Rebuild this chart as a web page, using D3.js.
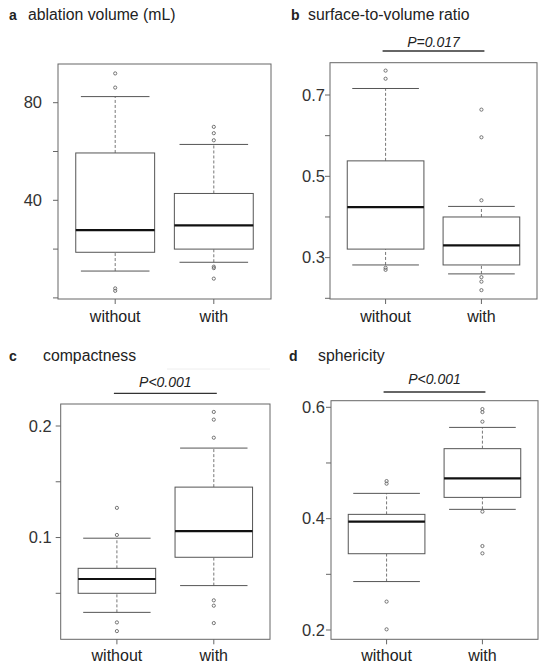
<!DOCTYPE html>
<html lang="en">
<head>
<meta charset="UTF-8">
<title>Boxplots</title>
<script src="https://d3js.org/d3.v7.min.js"></script>
<style>
  body { margin: 0; background: #fff; }
  svg { display: block; font-family: 'Liberation Sans', Arial, sans-serif; }
</style>
</head>
<body>
<div id="chart"></div>
<script>
// groups
const groups = ['without', 'with'];

// five-number summaries: [lowWhisker, q1, median, q3, highWhisker]
const volumeWithout = [11.0, 18.7, 27.8, 59.4, 82.5];
const volumeWith = [14.6, 20.0, 29.7, 42.8, 62.9];
const volumeOutWithout = [92.0, 86.2, 3.9, 2.9];
const volumeOutWith = [70.1, 67.5, 64.6, 12.8, 12.2, 7.9];

const svrWithout = [0.282, 0.321, 0.424, 0.538, 0.716];
const svrWith = [0.260, 0.282, 0.330, 0.400, 0.426];
const svrOutWithout = [0.760, 0.740, 0.275, 0.270];
const svrOutWith = [0.664, 0.596, 0.441, 0.252, 0.241, 0.220];

const compWithout = [0.0329, 0.0500, 0.0628, 0.0724, 0.0994];
const compWith = [0.0569, 0.0823, 0.1057, 0.1452, 0.1802];
const compOutWithout = [0.1266, 0.1023, 0.0239, 0.0161];
const compOutWith = [0.2126, 0.2057, 0.1895, 0.0437, 0.0389, 0.0233];

const sphWithout = [0.287, 0.337, 0.3946, 0.4077, 0.4454];
const sphWith = [0.4167, 0.4382, 0.4723, 0.5257, 0.5639];
const sphOutWithout = [0.4675, 0.4628, 0.251, 0.2012];
const sphOutWith = [0.5968, 0.5914, 0.5742, 0.4126, 0.3508, 0.3377];

// axis ticks
const volumeTicks = [0, 20, 40, 60, 80];
const volumeLabels = ['', '', '40', '', '80'];
const svrTicks = [0.2, 0.3, 0.4, 0.5, 0.6, 0.7];
const svrLabels = ['', '0.3', '', '0.5', '', '0.7'];
const compTicks = [0.05, 0.1, 0.15, 0.2];
const compLabels = ['', '0.1', '', '0.2'];
const sphTicks = [0.2, 0.3, 0.4, 0.5, 0.6];
const sphLabels = ['0.2', '', '0.4', '', '0.6'];

const width = 539, height = 663;
const svg = d3.select('#chart').append('svg')
    .attr('width', width)
    .attr('height', height);

const panels = [
    { letter: 'a', title: 'ablation volume (mL)', titleX: 9, titleGap: 19, titleY: 20,
      frame: [58, 271, 64, 299], yDomain: [0, 80], yRange: [297.9, 102.7],
      ticks: volumeTicks, labels: volumeLabels, labelGap: 16, catY: 322,
      stats: [volumeWithout, volumeWith], outs: [volumeOutWithout, volumeOutWith], p: null },
    { letter: 'b', title: 'surface-to-volume ratio', titleX: 291, titleGap: 17, titleY: 20,
      frame: [330, 537, 62.7, 299], yDomain: [0.2, 0.7], yRange: [298.3, 95],
      ticks: svrTicks, labels: svrLabels, labelGap: 5, catY: 322,
      stats: [svrWithout, svrWith], outs: [svrOutWithout, svrOutWith],
      p: { text: 'P=0.017', y: 47, lineY: 51 } },
    { letter: 'c', title: 'compactness', titleX: 9, titleGap: 34, titleY: 361,
      frame: [60.7, 270, 404, 639.3], yDomain: [0.05, 0.2], yRange: [593.3, 426],
      ticks: compTicks, labels: compLabels, labelGap: 9, catY: 661,
      stats: [compWithout, compWith], outs: [compOutWithout, compOutWith],
      p: { text: 'P<0.001', y: 387, lineY: 393.3 } },
    { letter: 'd', title: 'sphericity', titleX: 289, titleGap: 29, titleY: 361,
      frame: [331, 538, 400.7, 639.3], yDomain: [0.2, 0.6], yRange: [630, 407.3],
      ticks: sphTicks, labels: sphLabels, labelGap: 6, catY: 661,
      stats: [sphWithout, sphWith], outs: [sphOutWithout, sphOutWith],
      p: { text: 'P<0.001', y: 384, lineY: 392 } }
];

// faint stray rule seen next to panel c title
svg.append('line')
    .attr('x1', 167).attr('x2', 270).attr('y1', 369).attr('y2', 369)
    .attr('stroke', '#eeeeee').attr('stroke-width', 1);

panels.forEach(pn => {
    const [x0, x1, y0, y1] = pn.frame;
    const x = d3.scaleLinear().domain([0.42, 2.58]).range([x0, x1]);
    const y = d3.scaleLinear().domain(pn.yDomain).range(pn.yRange);
    const g = svg.append('g');
    const boxW = x(1.4) - x(0.6);
    const capW = boxW / 2.3;

    // title
    const t = g.append('text')
        .attr('x', pn.titleX).attr('y', pn.titleY)
        .attr('font-size', 15.8).attr('fill', '#222');
    t.append('tspan').attr('font-weight', 'bold').attr('font-size', 14).text(pn.letter);
    t.append('tspan').attr('x', pn.titleX + pn.titleGap).text(pn.title);

    // frame
    g.append('rect')
        .attr('x', x0).attr('y', y0)
        .attr('width', x1 - x0).attr('height', y1 - y0)
        .attr('fill', 'none').attr('stroke', '#666').attr('stroke-width', 1);

    // y ticks
    pn.ticks.forEach((v, i) => {
        g.append('line')
            .attr('x1', x0 - 5).attr('x2', x0)
            .attr('y1', y(v)).attr('y2', y(v))
            .attr('stroke', '#666');
        if (pn.labels[i]) {
            g.append('text')
                .attr('x', x0 - pn.labelGap).attr('y', y(v))
                .attr('dy', '0.35em')
                .attr('text-anchor', 'end')
                .attr('font-size', 16.5).attr('fill', '#333')
                .text(pn.labels[i]);
        }
    });

    // x ticks + category labels
    groups.forEach((grp, i) => {
        const cx = x(i + 1);
        g.append('line')
            .attr('x1', cx).attr('x2', cx).attr('y1', y1).attr('y2', y1 + 5)
            .attr('stroke', '#666');
        g.append('text')
            .attr('x', cx).attr('y', pn.catY)
            .attr('text-anchor', 'middle')
            .attr('font-size', 16).attr('fill', '#222')
            .text(grp);

        const s = pn.stats[i];
        // whiskers
        [[s[0], s[1]], [s[3], s[4]]].forEach(([a, b]) => {
            g.append('line')
                .attr('x1', cx).attr('x2', cx).attr('y1', y(a)).attr('y2', y(b))
                .attr('stroke', '#777').attr('stroke-dasharray', '3,2');
        });
        [s[0], s[4]].forEach(v => {
            g.append('line')
                .attr('x1', cx - capW).attr('x2', cx + capW)
                .attr('y1', y(v)).attr('y2', y(v))
                .attr('stroke', '#555');
        });
        // box
        g.append('rect')
            .attr('x', cx - boxW / 2).attr('y', y(s[3]))
            .attr('width', boxW).attr('height', y(s[1]) - y(s[3]))
            .attr('fill', '#fff').attr('stroke', '#555');
        // median
        g.append('line')
            .attr('x1', cx - boxW / 2).attr('x2', cx + boxW / 2)
            .attr('y1', y(s[2])).attr('y2', y(s[2]))
            .attr('stroke', '#111').attr('stroke-width', 2.2);
        // outliers
        g.selectAll(null)
            .data(pn.outs[i])
            .join('circle')
            .attr('cx', cx).attr('cy', d => y(d))
            .attr('r', 1.6)
            .attr('fill', 'none').attr('stroke', '#666').attr('stroke-width', 0.9);
    });

    // significance bar
    if (pn.p) {
        g.append('line')
            .attr('x1', x(1) - 3).attr('x2', x(2) + 3)
            .attr('y1', pn.p.lineY).attr('y2', pn.p.lineY)
            .attr('stroke', '#333').attr('stroke-width', 1.3);
        g.append('text')
            .attr('x', (x(1) + x(2)) / 2).attr('y', pn.p.y)
            .attr('text-anchor', 'middle')
            .attr('font-size', 14).attr('font-style', 'italic').attr('fill', '#222')
            .text(pn.p.text);
    }
});
</script>
</body>
</html>
